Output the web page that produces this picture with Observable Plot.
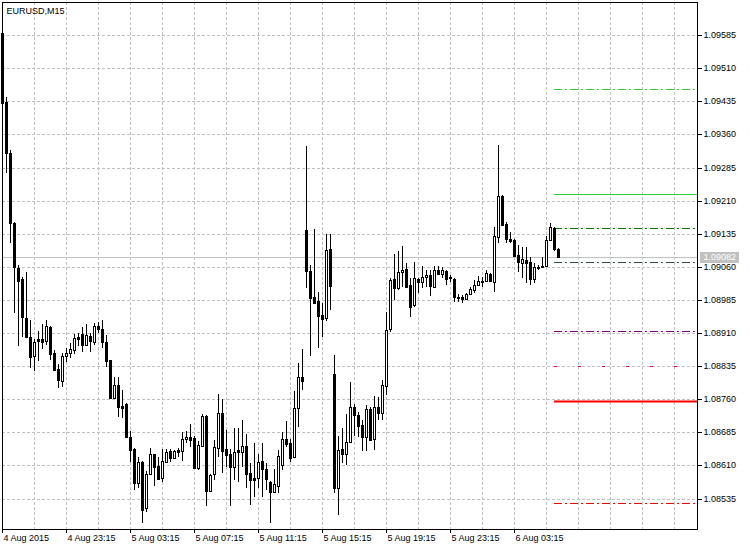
<!DOCTYPE html>
<html><head><meta charset="utf-8">
<script src="https://cdn.jsdelivr.net/npm/d3@7"></script>
<script src="https://cdn.jsdelivr.net/npm/@observablehq/plot@0.6"></script>
<style>html,body{margin:0;padding:0;background:#fff}</style>
</head><body><div id="chart"></div>
<script>
const title = "EURUSD,M15";
const opens = [
1.09589,1.09433,1.09317,1.09159,1.09057,1.09032,1.08943,1.08900,1.08857,1.08896,
1.08896,1.08891,1.08923,1.08864,1.08828,1.08801,1.08857,1.08864,1.08871,1.08900,
1.08907,1.08882,1.08903,1.08889,1.08925,1.08918,1.08889,1.08848,1.08762,1.08792,
1.08744,1.08749,1.08674,1.08647,1.08570,1.08617,1.08513,1.08590,1.08635,1.08608,
1.08581,1.08617,1.08642,1.08626,1.08644,1.08642,1.08669,1.08674,1.08672,1.08604,
1.08653,1.08721,1.08551,1.08590,1.08649,1.08728,1.08647,1.08637,1.08606,1.08644,
1.08640,1.08653,1.08592,1.08581,1.08581,1.08619,1.08601,1.08572,1.08549,1.08563,
1.08610,1.08669,1.08660,1.08628,1.08740,1.08810,1.09143,1.09050,1.08991,1.08982,
1.08950,1.08943,1.09100,1.08817,1.08558,1.08647,1.08635,1.08662,1.08742,1.08724,
1.08701,1.08674,1.08737,1.08669,1.08742,1.08728,1.08789,1.08918,1.09032,1.09011,
1.09048,1.09054,1.09018,1.08973,1.09032,1.09025,1.09036,1.09041,1.09014,1.09052,
1.09043,1.09050,1.09036,1.09032,1.08991,1.08991,1.08987,1.08998,1.09007,1.09018,
1.09027,1.09027,1.09043,1.09025,1.09127,1.09220,1.09156,1.09122,1.09120,1.09086,
1.09068,1.09075,1.09070,1.09032,1.09059,1.09059,1.09061,1.09120,1.09147,1.09100];
const highs = [
1.09592,1.09444,1.09324,1.09161,1.09064,1.09036,1.09048,1.08939,1.08896,1.08914,
1.08930,1.08939,1.08927,1.08871,1.08839,1.08864,1.08875,1.08887,1.08907,1.08909,
1.08923,1.08930,1.08909,1.08932,1.08934,1.08939,1.08905,1.08850,1.08810,1.08810,
1.08780,1.08751,1.08687,1.08649,1.08628,1.08619,1.08597,1.08649,1.08637,1.08628,
1.08647,1.08647,1.08647,1.08644,1.08649,1.08685,1.08687,1.08703,1.08676,1.08665,
1.08726,1.08724,1.08590,1.08667,1.08771,1.08760,1.08690,1.08647,1.08694,1.08694,
1.08712,1.08681,1.08615,1.08660,1.08637,1.08660,1.08615,1.08574,1.08601,1.08644,
1.08685,1.08710,1.08669,1.08778,1.08841,1.08873,1.09333,1.09064,1.09145,1.09002,
1.08977,1.09134,1.09134,1.08860,1.08676,1.08694,1.08726,1.08798,1.08749,1.08730,
1.08712,1.08746,1.08742,1.08767,1.08764,1.08803,1.08957,1.09034,1.09088,1.09095,
1.09107,1.09068,1.09034,1.09070,1.09034,1.09061,1.09052,1.09052,1.09061,1.09061,
1.09059,1.09052,1.09041,1.09034,1.08998,1.08996,1.09000,1.09014,1.09030,1.09039,
1.09036,1.09052,1.09045,1.09150,1.09335,1.09222,1.09161,1.09138,1.09122,1.09109,
1.09104,1.09104,1.09082,1.09068,1.09064,1.09082,1.09129,1.09159,1.09150,1.09102];
const lows = [
1.09428,1.09272,1.09113,1.08955,1.08880,1.08900,1.08898,1.08830,1.08823,1.08846,
1.08873,1.08882,1.08848,1.08823,1.08785,1.08787,1.08844,1.08853,1.08862,1.08880,
1.08866,1.08880,1.08866,1.08884,1.08909,1.08875,1.08832,1.08760,1.08760,1.08719,
1.08717,1.08672,1.08617,1.08554,1.08558,1.08479,1.08504,1.08588,1.08563,1.08576,
1.08572,1.08615,1.08617,1.08624,1.08628,1.08619,1.08660,1.08651,1.08601,1.08599,
1.08651,1.08517,1.08549,1.08576,1.08628,1.08592,1.08606,1.08517,1.08576,1.08572,
1.08606,1.08560,1.08520,1.08538,1.08560,1.08538,1.08554,1.08479,1.08547,1.08547,
1.08599,1.08651,1.08617,1.08626,1.08696,1.08780,1.09011,1.08857,1.08975,1.08875,
1.08900,1.08937,1.08962,1.08547,1.08497,1.08615,1.08610,1.08660,1.08676,1.08674,
1.08642,1.08642,1.08665,1.08644,1.08712,1.08712,1.08769,1.08912,1.08984,1.09007,
1.09014,1.09011,1.08946,1.08968,1.09000,1.09011,1.09014,1.08993,1.09011,1.09041,
1.09034,1.09018,1.09025,1.08980,1.08980,1.08977,1.08984,1.08996,1.09000,1.09016,
1.09014,1.09025,1.09025,1.09002,1.09113,1.09152,1.09113,1.09113,1.09082,1.09048,
1.09034,1.09023,1.09018,1.09023,1.09052,1.09057,1.09059,1.09118,1.09095,1.09079];
const closes = [
1.09431,1.09317,1.09159,1.09059,1.09027,1.08946,1.08900,1.08855,1.08889,1.08891,
1.08889,1.08925,1.08862,1.08826,1.08803,1.08857,1.08864,1.08873,1.08898,1.08896,
1.08882,1.08905,1.08891,1.08927,1.08918,1.08889,1.08846,1.08762,1.08792,1.08742,
1.08740,1.08674,1.08644,1.08570,1.08617,1.08508,1.08590,1.08635,1.08606,1.08579,
1.08619,1.08640,1.08626,1.08642,1.08640,1.08669,1.08674,1.08667,1.08604,1.08656,
1.08721,1.08551,1.08588,1.08651,1.08728,1.08642,1.08633,1.08606,1.08640,1.08640,
1.08653,1.08590,1.08576,1.08576,1.08617,1.08601,1.08579,1.08549,1.08567,1.08631,
1.08669,1.08658,1.08626,1.08740,1.08810,1.08801,1.09050,1.08989,1.08977,1.08948,
1.08941,1.09097,1.09016,1.08558,1.08644,1.08635,1.08662,1.08742,1.08724,1.08699,
1.08674,1.08737,1.08667,1.08742,1.08728,1.08792,1.08916,1.09030,1.09011,1.09048,
1.09052,1.09014,1.08968,1.09034,1.09025,1.09036,1.09041,1.09016,1.09052,1.09043,
1.09052,1.09032,1.09034,1.08991,1.08989,1.08987,1.08998,1.09009,1.09018,1.09027,
1.09025,1.09045,1.09027,1.09129,1.09220,1.09154,1.09122,1.09118,1.09084,1.09070,
1.09077,1.09068,1.09032,1.09059,1.09057,1.09061,1.09120,1.09150,1.09100,1.09082];
const xTickBars = [0, 16, 32, 48, 64, 80, 96, 112, 128];
const xTickLabels = ["4 Aug 2015","4 Aug 23:15","5 Aug 03:15","5 Aug 07:15","5 Aug 11:15","5 Aug 15:15","5 Aug 19:15","5 Aug 23:15","6 Aug 03:15"];
const yTicks = [1.08535,1.08610,1.08685,1.08760,1.08835,1.08910,1.08985,1.09060,1.09135,1.09210,1.09285,1.09360,1.09435,1.09510,1.09585];
const currentPrice = 1.09082;
const levelPrices = [1.09462, 1.09226, 1.09149, 1.09070, 1.08914, 1.08836, 1.08757, 1.08524];
const levelStartBar = 138;
const yLo = 1.08466, yHi = 1.09660;

// styles (kept apart from the data)
const levelStyle = [
  {stroke:"#32cd32", dash:"8,3,2,3", w:1},
  {stroke:"#32cd32", dash:null, w:1},
  {stroke:"#008000", dash:"8,3,2,3", w:1},
  {stroke:"#2f4f4f", dash:"8,3,2,3", w:1},
  {stroke:"#800080", dash:"8,3,2,3", w:1},
  {stroke:"#dc143c", dash:"3,21", w:1},
  {stroke:"#ff0000", dash:null, w:2},
  {stroke:"#ff0000", dash:"8,3,2,3", w:1}
];

const W = 750, H = 550, mL = 2, mR = 53, mT = 2, mB = 21;
const barPx = 4;
const xMax = (W - mL - mR) / barPx;
const pxToPrice = (yHi - yLo) / (H - mT - mB);
// rects get no half-pixel offset from Plot: add it so 1px outlines stay crisp
const half = {dx: 0.5, dy: 0.5};

const bars = opens.map((o, i) => ({i, o, h: highs[i], l: lows[i], c: closes[i]}));
const bull = bars.filter(d => d.c >= d.o);
const bear = bars.filter(d => d.c < d.o);
const fmt = d3.format(".5f");
const gridStyle = {stroke: "#c0c0c0", strokeDasharray: "3,2"};

const levelMarks = levelPrices.map((p, k) => Plot.ruleY([p], {
  x1: levelStartBar, x2: xMax, stroke: levelStyle[k].stroke, strokeWidth: levelStyle[k].w,
  strokeDasharray: levelStyle[k].dash || undefined
}));

const chart = Plot.plot({
  width: W, height: H,
  marginLeft: mL, marginRight: mR, marginTop: mT, marginBottom: mB,
  x: {domain: [0, xMax], axis: null, round: true},
  y: {domain: [yLo, yHi], axis: null, round: true},
  style: {fontFamily: "'Liberation Sans', Arial, sans-serif", fontSize: "9px", background: "white", overflow: "visible", color: "black"},
  marks: [
    Plot.ruleX(d3.range(0, xMax, 8), gridStyle),
    Plot.ruleY(yTicks, gridStyle),
    Plot.ruleY([currentPrice], {stroke: "#c0c0c0"}),
    ...levelMarks,
    Plot.ruleX(bars, {x: "i", y1: "l", y2: "h", stroke: "black"}),
    Plot.rect(bear, {x1: d => d.i - 0.25, x2: d => d.i + 0.25, y1: "o", y2: "c", fill: "black", stroke: "black", ...half}),
    Plot.rect(bull, {x1: d => d.i - 0.25, x2: d => d.i + 0.25, y1: "o", y2: "c", fill: "white", stroke: "black", ...half}),
    Plot.frame({stroke: "black"}),
    Plot.ruleY(yTicks, {x1: xMax, x2: xMax + 5 / barPx, stroke: "black"}),
    Plot.text(yTicks, {x: xMax, y: d => d, text: fmt, dx: 6, textAnchor: "start", fontSize: 9, fill: "black"}),
    Plot.rect([currentPrice], {x1: xMax + 3 / barPx, x2: xMax + 42 / barPx, y1: d => d - 5.5 * pxToPrice, y2: d => d + 5 * pxToPrice, fill: "#c0c0c0"}),
    Plot.text([currentPrice], {x: xMax, y: d => d, text: fmt, dx: 6, textAnchor: "start", fontSize: 9, fill: "white"}),
    Plot.ruleX(xTickBars, {x: d => d, y1: yLo, y2: yLo - 4 * pxToPrice, stroke: "black"}),
    Plot.text(xTickBars, {x: d => d, y: yLo, text: (d, i) => xTickLabels[i], textAnchor: "start", lineAnchor: "top", dx: 1, dy: 5, fontSize: 9, fill: "black"}),
    Plot.text([title], {frameAnchor: "top-left", dx: 4, dy: 5, textAnchor: "start", lineAnchor: "top", fontSize: 9, fill: "black"})
  ]
});
document.getElementById("chart").appendChild(chart);
</script>
</body></html>
